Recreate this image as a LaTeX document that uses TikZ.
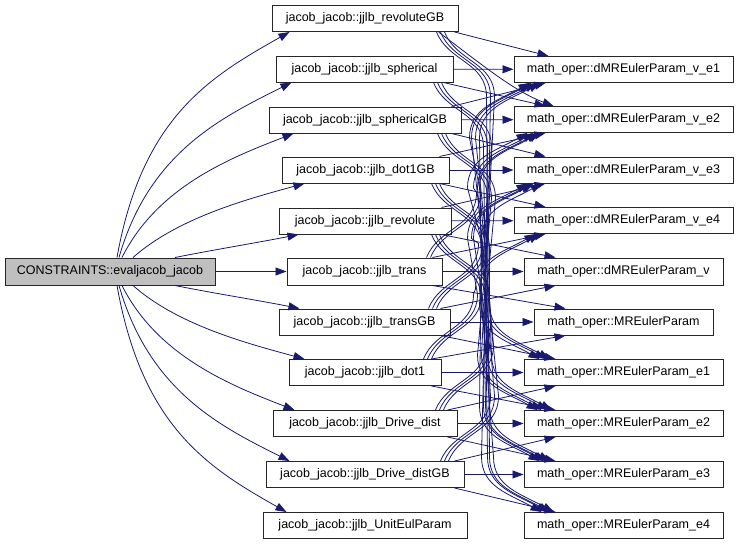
\documentclass[tikz,border=0pt]{standalone}
\usepackage{fontspec}
\setmainfont{Liberation Sans}
\usetikzlibrary{arrows.meta}
\definecolor{callblue}{HTML}{191970}
\definecolor{rootgray}{HTML}{BFBFBF}

\begin{document}
\begin{tikzpicture}[x=1pt, y=1pt,
	fn/.style = {draw=black!85, fill=white, line width=1pt, inner sep=0pt, minimum height=26pt, font=\fontsize{12.5}{14}\selectfont},
	call/.style = {draw=callblue, line width=0.8pt, -{Triangle[length=11pt,width=8pt]}}]
		\useasboundingbox (0,0) rectangle (739,-544);
		%%%%%%%%%%%%%
		\node[fn, fill=rootgray, minimum width=210pt, minimum height=27pt] (eval) at (110,-271.5) {CONSTRAINTS::evaljacob\_jacob};
		%%%%%%%%%%%%%
		\node[fn, minimum width=186pt] (revGB) at (365,-18.5) {jacob\_jacob::jjlb\_revoluteGB};
		\node[fn, minimum width=177pt] (sph) at (364.5,-69) {jacob\_jacob::jjlb\_spherical};
		\node[fn, minimum width=192pt] (sphGB) at (365,-120) {jacob\_jacob::jjlb\_sphericalGB};
		\node[fn, minimum width=167pt] (dotGB) at (365.5,-170) {jacob\_jacob::jjlb\_dot1GB};
		\node[fn, minimum width=172pt] (rev) at (365,-221) {jacob\_jacob::jjlb\_revolute};
		\node[fn, minimum width=155pt, minimum height=27pt] (trans) at (364.5,-271.5) {jacob\_jacob::jjlb\_trans};
		\node[fn, minimum width=171pt] (transGB) at (364.5,-322) {jacob\_jacob::jjlb\_transGB};
		\node[fn, minimum width=152pt] (dot) at (365,-372.5) {jacob\_jacob::jjlb\_dot1};
		\node[fn, minimum width=184pt] (drv) at (365,-423.5) {jacob\_jacob::jjlb\_Drive\_dist};
		\node[fn, minimum width=198pt] (drvGB) at (365,-474.5) {jacob\_jacob::jjlb\_Drive\_distGB};
		\node[fn, minimum width=204pt] (unit) at (365,-525.5) {jacob\_jacob::jjlb\_UnitEulParam};
		%%%%%%%%%%%%%
		\node[fn, minimum width=219pt] (ve1) at (623.5,-69.5) {math\_oper::dMREulerParam\_v\_e1};
		\node[fn, minimum width=219pt] (ve2) at (623.5,-119.5) {math\_oper::dMREulerParam\_v\_e2};
		\node[fn, minimum width=219pt] (ve3) at (623.5,-170) {math\_oper::dMREulerParam\_v\_e3};
		\node[fn, minimum width=219pt] (ve4) at (623.5,-220.5) {math\_oper::dMREulerParam\_v\_e4};
		\node[fn, minimum width=199pt, minimum height=27pt] (dv) at (623.5,-271.5) {math\_oper::dMREulerParam\_v};
		\node[fn, minimum width=179pt] (mre) at (623.5,-322) {math\_oper::MREulerParam};
		\node[fn, minimum width=199pt] (me1) at (623.5,-372.5) {math\_oper::MREulerParam\_e1};
		\node[fn, minimum width=199pt] (me2) at (623.5,-423.5) {math\_oper::MREulerParam\_e2};
		\node[fn, minimum width=199pt] (me3) at (623.5,-474.5) {math\_oper::MREulerParam\_e3};
		\node[fn, minimum width=199pt] (me4) at (623.5,-525.5) {math\_oper::MREulerParam\_e4};
		%%%%%%%%%%%%%
		% evaljacob_jacob calls
		\draw[call] ([xshift=7]eval.north) .. controls +(25,140) and +(-80,-45) .. ([xshift=18]revGB.south west);
		\draw[call] ([xshift=9]eval.north) .. controls +(30,105) and +(-70,-35) .. ([xshift=16]sph.south west);
		\draw[call] ([xshift=12]eval.north) .. controls +(35,70) and +(-65,-25) .. ([xshift=25]sphGB.south west);
		\draw[call] ([xshift=23]eval.north) .. controls +(45,40) and +(-55,-15) .. ([xshift=23]dotGB.south west);
		\draw[call] ([xshift=65]eval.north) .. controls +(40,8) and +(-40,-8) .. ([xshift=20]rev.south west);
		\draw[call] (eval) -- (trans);
		\draw[call] ([xshift=65]eval.south) .. controls +(40,-8) and +(-40,8) .. ([xshift=21]transGB.north west);
		\draw[call] ([xshift=23]eval.south) .. controls +(45,-40) and +(-55,15) .. ([xshift=16]dot.north west);
		\draw[call] ([xshift=12]eval.south) .. controls +(35,-70) and +(-65,25) .. ([xshift=22]drv.north west);
		\draw[call] ([xshift=9]eval.south) .. controls +(30,-105) and +(-70,35) .. ([xshift=24]drvGB.north west);
		\draw[call] ([xshift=7]eval.south) .. controls +(25,-140) and +(-80,45) .. ([xshift=24]unit.north west);
		%%%%%%%%%%%%%
		% same row
		\foreach \s/\t in {sph/ve1, sphGB/ve2, dotGB/ve3, rev/ve4, trans/dv, transGB/mre, dot/me1, drv/me2, drvGB/me3}
			\draw[call] (\s) -- (\t);
		% one row down / up
		\draw[call] ([xshift=-4]revGB.south east) -- ([xshift=35]ve1.north west);
		\draw[call] ([xshift=-20]revGB.south east) .. controls +(40,-30) and +(-40,15) .. ([xshift=40]ve2.north west);
		\foreach \s/\t in {sph/ve2, sphGB/ve3, dotGB/ve4, rev/dv, trans/mre, transGB/me1, dot/me2, drv/me3, drvGB/me4}
			\draw[call] ([xshift=-10]\s.south east) -- ([xshift=32]\t.north west);
		\foreach \s/\t in {sphGB/ve1, dotGB/ve2, rev/ve3, trans/ve4, transGB/dv, dot/mre, drv/me1, drvGB/me2}
			\draw[call] ([xshift=-10]\s.north east) -- ([xshift=32]\t.south west);
		% long calls downwards
		\foreach \s/\t/\a/\b in {revGB/me2/14/18, revGB/me3/18/22, revGB/me4/22/26,
				sph/me1/12/16, sph/me3/16/20, sph/me4/20/24,
				sphGB/me1/16/22, sphGB/me2/20/14, sphGB/me4/24/18,
				dotGB/me1/10/26, dotGB/me2/14/24, dotGB/me3/18/16,
				rev/me2/12/28, rev/me3/16/26, rev/me4/20/30}
			\draw[call] ([xshift=-\a]\s.south east) .. controls +(12,-30) and +(0,35) .. ([xshift={50-\a}, yshift=-65]\s.south east)
				-- ([xshift={\b-60}, yshift=55]\t.north west) .. controls +(0,-30) and +(-32,18) .. ([xshift=\b]\t.north west);
		% long calls upwards
		\foreach \s/\t/\a/\b in {trans/ve1/12/16, trans/ve2/16/20,
				transGB/ve1/14/22, transGB/ve2/18/14, transGB/ve3/22/18,
				dot/ve1/10/26, dot/ve3/14/14, dot/ve4/18/22,
				drv/ve2/14/26, drv/ve3/18/20, drv/ve4/22/26,
				drvGB/ve1/16/18, drvGB/ve2/20/24, drvGB/ve3/24/28}
			\draw[call] ([xshift=-\a]\s.north east) .. controls +(12,30) and +(0,-35) .. ([xshift={50-\a}, yshift=65]\s.north east)
				-- ([xshift={\b-60}, yshift=-55]\t.south west) .. controls +(0,30) and +(-32,-18) .. ([xshift=\b]\t.south west);
\end{tikzpicture}
\end{document}
